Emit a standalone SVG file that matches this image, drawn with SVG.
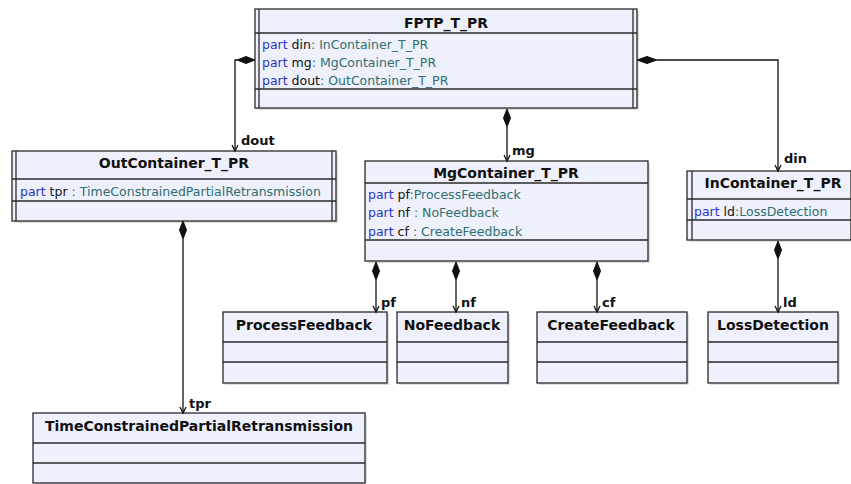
<svg xmlns="http://www.w3.org/2000/svg" width="851" height="484" viewBox="0 0 851 484">
<style>
.box{fill:#eef0fc;stroke:#2a2a2a;stroke-width:1.3}
.sh{fill:#c8c8c8;opacity:.6}
.ln{stroke:#2a2a2a;stroke-width:1.3;fill:none}
.hd{font-family:"DejaVu Sans",Verdana,sans-serif;font-weight:bold;font-size:14px;fill:#111;text-anchor:middle}
.at{font-family:"DejaVu Sans",Verdana,sans-serif;font-size:12.5px;fill:#111}
.kw{fill:#2b35c8}
.ty{fill:#2f6f6f}
.lb{font-family:"DejaVu Sans",Verdana,sans-serif;font-weight:bold;font-size:13px;fill:#111}
.cn{stroke:#111;stroke-width:1.3;fill:none}
.dm{fill:#111;stroke:#111;stroke-width:1}
</style>
<rect width="851" height="484" fill="#fff"/>

<g id="FPTP_T_PR">
<rect class="sh" x="257" y="11" width="382" height="99"/>
<rect class="box" x="255" y="9" width="382" height="99"/>
<line class="ln" x1="259" y1="9" x2="259" y2="108"/>
<line class="ln" x1="633" y1="9" x2="633" y2="108"/>
<line class="ln" x1="255" y1="33" x2="637" y2="33"/>
<line class="ln" x1="255" y1="89" x2="637" y2="89"/>
<text class="hd" x="446" y="28">FPTP_T_PR</text>
<text class="at" x="262" y="49"><tspan class="kw">part</tspan> din<tspan class="ty">: InContainer_T_PR</tspan></text>
<text class="at" x="262" y="67"><tspan class="kw">part</tspan> mg<tspan class="ty">: MgContainer_T_PR</tspan></text>
<text class="at" x="262" y="85"><tspan class="kw">part</tspan> dout<tspan class="ty">: OutContainer_T_PR</tspan></text>
</g>

<g id="OutContainer_T_PR">
<rect class="sh" x="14" y="153" width="324" height="70"/>
<rect class="box" x="12" y="151" width="324" height="70"/>
<line class="ln" x1="16" y1="151" x2="16" y2="221"/>
<line class="ln" x1="332" y1="151" x2="332" y2="221"/>
<line class="ln" x1="12" y1="179" x2="336" y2="179"/>
<line class="ln" x1="12" y1="201" x2="336" y2="201"/>
<text class="hd" x="174" y="168">OutContainer_T_PR</text>
<text class="at" x="20" y="196"><tspan class="kw">part</tspan> tpr <tspan class="ty">: TimeConstrainedPartialRetransmission</tspan></text>
</g>

<g id="MgContainer_T_PR">
<rect class="sh" x="367" y="163" width="283" height="100"/>
<rect class="box" x="365" y="161" width="283" height="100"/>
<line class="ln" x1="365" y1="183" x2="648" y2="183"/>
<line class="ln" x1="365" y1="240" x2="648" y2="240"/>
<text class="hd" x="506" y="178">MgContainer_T_PR</text>
<text class="at" x="368" y="199"><tspan class="kw">part</tspan> pf<tspan class="ty">:ProcessFeedback</tspan></text>
<text class="at" x="368" y="217"><tspan class="kw">part</tspan> nf <tspan class="ty">: NoFeedback</tspan></text>
<text class="at" x="368" y="236"><tspan class="kw">part</tspan> cf <tspan class="ty">: CreateFeedback</tspan></text>
</g>

<g id="InContainer_T_PR">
<rect class="sh" x="689" y="173" width="162" height="69"/>
<rect class="box" x="687" y="171" width="164" height="69"/>
<line class="ln" x1="692" y1="171" x2="692" y2="240"/>
<line class="ln" x1="687" y1="199" x2="851" y2="199"/>
<line class="ln" x1="687" y1="220" x2="851" y2="220"/>
<text class="hd" x="773" y="188">InContainer_T_PR</text>
<text class="at" x="694" y="216"><tspan class="kw">part</tspan> ld<tspan class="ty">:LossDetection</tspan></text>
</g>

<g id="ProcessFeedback">
<rect class="sh" x="225" y="314" width="164" height="71"/>
<rect class="box" x="223" y="312" width="164" height="71"/>
<line class="ln" x1="223" y1="342" x2="387" y2="342"/>
<line class="ln" x1="223" y1="362" x2="387" y2="362"/>
<text class="hd" x="304" y="330">ProcessFeedback</text>
</g>

<g id="NoFeedback">
<rect class="sh" x="399" y="314" width="111" height="71"/>
<rect class="box" x="397" y="312" width="111" height="71"/>
<line class="ln" x1="397" y1="342" x2="508" y2="342"/>
<line class="ln" x1="397" y1="362" x2="508" y2="362"/>
<text class="hd" x="452" y="330">NoFeedback</text>
</g>

<g id="CreateFeedback">
<rect class="sh" x="539" y="314" width="150" height="71"/>
<rect class="box" x="537" y="312" width="150" height="71"/>
<line class="ln" x1="537" y1="342" x2="687" y2="342"/>
<line class="ln" x1="537" y1="362" x2="687" y2="362"/>
<text class="hd" x="611" y="330">CreateFeedback</text>
</g>

<g id="LossDetection">
<rect class="sh" x="710" y="314" width="130" height="71"/>
<rect class="box" x="708" y="312" width="130" height="71"/>
<line class="ln" x1="708" y1="342" x2="838" y2="342"/>
<line class="ln" x1="708" y1="362" x2="838" y2="362"/>
<text class="hd" x="773" y="330">LossDetection</text>
</g>

<g id="TimeConstrainedPartialRetransmission">
<rect class="sh" x="35" y="415" width="332" height="70"/>
<rect class="box" x="33" y="413" width="332" height="70"/>
<line class="ln" x1="33" y1="443" x2="365" y2="443"/>
<line class="ln" x1="33" y1="463" x2="365" y2="463"/>
<text class="hd" x="199" y="431">TimeConstrainedPartialRetransmission</text>
</g>

<g id="connectors">
<!-- dout -->
<polygon class="dm" points="255,60 246,56.5 237,60 246,63.5"/>
<polyline class="cn" points="237,60 235,60 235,151"/>
<polyline class="cn" points="232,145 235,151 238,145"/>
<text class="lb" x="241" y="145">dout</text>
<!-- din -->
<polygon class="dm" points="637,60 647,56.5 657,60 647,63.5"/>
<polyline class="cn" points="657,60 778,60 778,171"/>
<polyline class="cn" points="775,165 778,171 781,165"/>
<text class="lb" x="784" y="163">din</text>
<!-- mg -->
<polygon class="dm" points="507,109 510.5,118 507,127 503.5,118"/>
<line class="cn" x1="507" y1="127" x2="507" y2="161"/>
<polyline class="cn" points="504,155 507,161 510,155"/>
<text class="lb" x="512" y="155">mg</text>
<!-- tpr -->
<polygon class="dm" points="183,221 186.5,230 183,239 179.5,230"/>
<line class="cn" x1="183" y1="239" x2="183" y2="413"/>
<polyline class="cn" points="180,407 183,413 186,407"/>
<text class="lb" x="189" y="408">tpr</text>
<!-- pf -->
<polygon class="dm" points="376,262 379.5,271 376,280 372.5,271"/>
<line class="cn" x1="376" y1="280" x2="376" y2="312"/>
<polyline class="cn" points="373,306 376,312 379,306"/>
<text class="lb" x="381" y="307">pf</text>
<!-- nf -->
<polygon class="dm" points="456,262 459.5,271 456,280 452.5,271"/>
<line class="cn" x1="456" y1="280" x2="456" y2="312"/>
<polyline class="cn" points="453,306 456,312 459,306"/>
<text class="lb" x="461" y="307">nf</text>
<!-- cf -->
<polygon class="dm" points="597,262 600.5,271 597,280 593.5,271"/>
<line class="cn" x1="597" y1="280" x2="597" y2="312"/>
<polyline class="cn" points="594,306 597,312 600,306"/>
<text class="lb" x="602" y="307">cf</text>
<!-- ld -->
<polygon class="dm" points="778,241 781.5,250 778,259 774.5,250"/>
<line class="cn" x1="778" y1="259" x2="778" y2="312"/>
<polyline class="cn" points="775,306 778,312 781,306"/>
<text class="lb" x="783" y="307">ld</text>
</g>
</svg>
